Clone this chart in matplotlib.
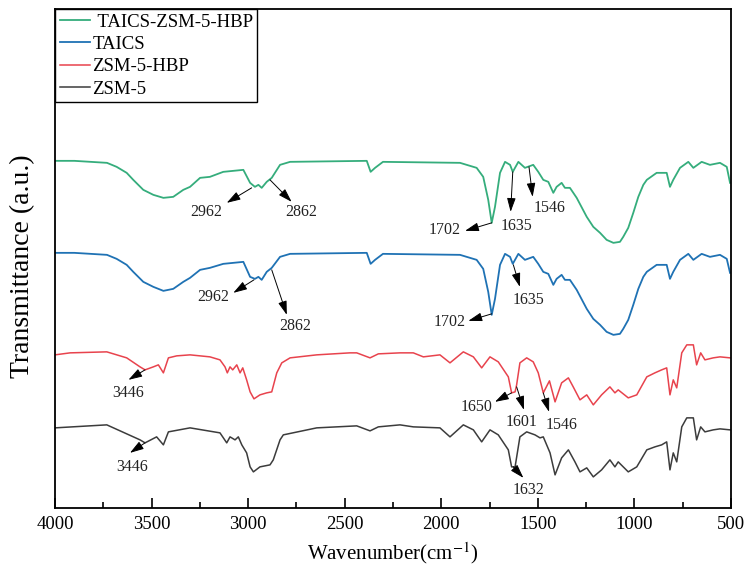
import matplotlib
matplotlib.use("Agg")
import matplotlib.pyplot as plt
from matplotlib.ticker import MultipleLocator

plt.rcParams['font.family'] = ['Liberation Serif', 'DejaVu Serif']
plt.rcParams['mathtext.fontset'] = 'stix'

# ---- spectra (wavenumber cm-1, transmittance a.u.) ----
wn_taics_hbp = [4000, 3900, 3731, 3681, 3629, 3595, 3543, 3491, 3439, 3388, 3336, 3301, 3249, 3198,
                3129, 3025, 2990, 2965, 2947, 2930, 2904, 2878, 2835, 2783, 2386, 2366, 2343, 2302,
                1903, 1817, 1783, 1757, 1739, 1722, 1696, 1670, 1644, 1630, 1601, 1567, 1524, 1498,
                1472, 1446, 1420, 1403, 1377, 1360, 1334, 1299, 1247, 1213, 1178, 1144, 1109, 1075,
                1058, 1032, 1006, 980, 954, 936, 885, 833, 816, 799, 764, 721, 695, 652, 609, 557,
                522, 505]
t_taics_hbp = [3.47, 3.47, 3.45, 3.41, 3.35, 3.28, 3.18, 3.13, 3.10, 3.11, 3.18, 3.21, 3.30, 3.31,
               3.36, 3.38, 3.25, 3.21, 3.23, 3.20, 3.26, 3.30, 3.43, 3.46, 3.47, 3.36, 3.40, 3.46,
               3.45, 3.40, 3.31, 3.08, 2.85, 3.01, 3.35, 3.46, 3.43, 3.36, 3.46, 3.40, 3.43, 3.36,
               3.28, 3.26, 3.15, 3.21, 3.25, 3.20, 3.20, 3.10, 2.91, 2.81, 2.75, 2.68, 2.65, 2.66,
               2.71, 2.80, 2.95, 3.11, 3.23, 3.28, 3.35, 3.35, 3.21, 3.28, 3.40, 3.46, 3.40, 3.46,
               3.43, 3.45, 3.41, 3.25]

wn_taics = wn_taics_hbp
t_taics = [2.55, 2.55, 2.53, 2.49, 2.43, 2.36, 2.26, 2.21, 2.17, 2.19, 2.26, 2.30, 2.38, 2.40,
           2.44, 2.46, 2.31, 2.29, 2.31, 2.28, 2.36, 2.40, 2.51, 2.54, 2.55, 2.44, 2.48, 2.54,
           2.53, 2.48, 2.39, 2.16, 1.93, 2.09, 2.43, 2.54, 2.51, 2.44, 2.54, 2.48, 2.51, 2.44,
           2.36, 2.34, 2.23, 2.29, 2.33, 2.28, 2.28, 2.18, 1.99, 1.89, 1.83, 1.76, 1.73, 1.74,
           1.79, 1.88, 2.03, 2.19, 2.31, 2.36, 2.43, 2.43, 2.29, 2.36, 2.48, 2.54, 2.48, 2.54,
           2.51, 2.53, 2.49, 2.35]

wn_zsm_hbp = [4000, 3922, 3732, 3629, 3560, 3534, 3491, 3465, 3439, 3413, 3370, 3301, 3198, 3146,
              3120, 3108, 3094, 3080, 3059, 3042, 3028, 3008, 2990, 2970, 2939, 2904, 2878, 2852,
              2826, 2783, 2645, 2473, 2438, 2369, 2326, 2214, 2145, 2093, 2007, 1955, 1886, 1834,
              1791, 1748, 1705, 1653, 1636, 1618, 1610, 1593, 1558, 1524, 1498, 1472, 1440, 1411,
              1377, 1342, 1317, 1282, 1247, 1213, 1170, 1127, 1101, 1084, 1032, 988, 936, 894, 859,
              833, 816, 799, 781, 755, 729, 695, 678, 657, 635, 592, 557, 505]
t_zsm_hbp = [1.53, 1.55, 1.56, 1.50, 1.41, 1.38, 1.41, 1.43, 1.35, 1.50, 1.52, 1.53, 1.51, 1.48,
             1.41, 1.35, 1.41, 1.38, 1.43, 1.35, 1.40, 1.28, 1.16, 1.09, 1.13, 1.15, 1.16, 1.35,
             1.45, 1.50, 1.53, 1.55, 1.55, 1.50, 1.54, 1.55, 1.55, 1.51, 1.53, 1.45, 1.56, 1.51,
             1.40, 1.51, 1.46, 1.31, 1.15, 1.16, 1.23, 1.45, 1.50, 1.46, 1.35, 1.15, 1.27, 1.06,
             1.25, 1.30, 1.21, 1.08, 1.13, 1.03, 1.13, 1.21, 1.15, 1.18, 1.10, 1.13, 1.31, 1.35, 1.38,
             1.40, 1.13, 1.28, 1.20, 1.55, 1.63, 1.63, 1.43, 1.55, 1.48, 1.50, 1.51, 1.50]

wn_zsm = [4000, 3732, 3560, 3534, 3474, 3439, 3413, 3301, 3146, 3111, 3094, 3068, 3051, 3033,
          3008, 2990, 2973, 2939, 2887, 2870, 2835, 2818, 2645, 2438, 2369, 2326, 2214, 2145,
          2007, 1955, 1886, 1834, 1791, 1748, 1705, 1653, 1636, 1618, 1593, 1558, 1515, 1489,
          1472, 1437, 1411, 1377, 1342, 1308, 1282, 1247, 1213, 1170, 1127, 1101, 1084, 1032,
          988, 936, 894, 859, 833, 816, 799, 781, 755, 729, 695, 678, 657, 635, 592, 557, 505]
t_zsm = [0.80, 0.83, 0.68, 0.65, 0.71, 0.63, 0.76, 0.80, 0.75, 0.65, 0.71, 0.68, 0.71, 0.63,
         0.55, 0.41, 0.36, 0.41, 0.43, 0.48, 0.68, 0.73, 0.80, 0.82, 0.77, 0.81, 0.83, 0.81,
         0.80, 0.71, 0.83, 0.78, 0.66, 0.78, 0.73, 0.58, 0.41, 0.41, 0.71, 0.76, 0.73, 0.70,
         0.71, 0.55, 0.33, 0.50, 0.58, 0.46, 0.36, 0.40, 0.31, 0.38, 0.48, 0.41, 0.46, 0.36,
         0.41, 0.58, 0.61, 0.63, 0.66, 0.38, 0.55, 0.46, 0.81, 0.90, 0.90, 0.68, 0.81, 0.76,
         0.78, 0.79, 0.78]

# peak labels: text, arrow tail (on curve), arrow head, text position
peak_labels = ['2962', '2862', '1702', '1635', '1546',
               '2962', '2862', '1702', '1635',
               '3446', '1650', '1601', '1546',
               '3446', '1632']
arrow_tail = [(2982, 3.20), (2887, 3.28), (1739, 2.85), (1630, 3.36), (1546, 3.41),
              (2970, 2.28), (2878, 2.38), (1739, 1.94), (1627, 2.43),
              (3534, 1.38), (1636, 1.15), (1610, 1.21), (1472, 1.15),
              (3534, 0.65), (1627, 0.41)]
arrow_head = [(3111, 3.05), (2775, 3.06), (1877, 2.77), (1641, 2.96), (1527, 3.11),
              (3077, 2.15), (2800, 1.93), (1860, 1.87), (1593, 2.21),
              (3620, 1.28), (1722, 1.06), (1572, 0.98), (1442, 0.96),
              (3612, 0.55), (1575, 0.30)]
text_pos = [(3219, 2.96), (2723, 2.96), (1981, 2.78), (1610, 2.82), (1437, 3.00),
            (3180, 2.11), (2757, 1.82), (1955, 1.86), (1550, 2.08),
            (3620, 1.15), (1817, 1.01), (1584, 0.86), (1377, 0.83),
            (3603, 0.41), (1550, 0.18)]

fig = plt.figure(figsize=(7.54, 5.70), dpi=100)
ax = fig.add_axes([0.073, 0.109, 0.8965, 0.8755])

ax.plot(wn_taics_hbp, t_taics_hbp, color='#35ad7c', lw=1.3, label=' TAICS-ZSM-5-HBP')
ax.plot(wn_taics, t_taics, color='#1f72b4', lw=1.3, label='TAICS')
ax.plot(wn_zsm_hbp, t_zsm_hbp, color='#e8434d', lw=1.1, label='ZSM-5-HBP')
ax.plot(wn_zsm, t_zsm, color='#3c3c3c', lw=1.1, label='ZSM-5')

for lab, tail, head, pos in zip(peak_labels, arrow_tail, arrow_head, text_pos):
    ax.annotate('', xy=head, xytext=tail,
                arrowprops=dict(arrowstyle='-|>,head_length=0.7,head_width=0.22',
                                color='black', lw=0.7, mutation_scale=12,
                                shrinkA=0, shrinkB=0))
    ax.text(pos[0], pos[1], lab, fontsize=11.5, ha='center', va='center', color='#222222')

ax.set_xlim(4000, 500)
ax.set_ylim(0, 4.99)
ax.xaxis.set_major_locator(MultipleLocator(500))
ax.xaxis.set_minor_locator(MultipleLocator(250))
ax.tick_params(axis='x', which='major', direction='in', length=7, width=1.2, labelsize=13.5, pad=6)
ax.tick_params(axis='x', which='minor', direction='in', length=4, width=1.2)
ax.tick_params(axis='y', left=False, labelleft=False)
for sp in ax.spines.values():
    sp.set_linewidth(1.3)

ax.set_xlabel('Wavenumber(cm$^{-1}$)', fontsize=15, labelpad=5)
ax.set_ylabel('Transmittance (a.u.)', fontsize=20)
ax.yaxis.set_label_coords(-0.03, 0.485)

leg = ax.legend(loc='upper left', borderaxespad=0, fontsize=13.5, frameon=True, fancybox=False,
                edgecolor='black', framealpha=1, handlelength=1.6, handletextpad=0.15,
                labelspacing=0.28, borderpad=0.25)
leg.get_frame().set_linewidth(1.0)

fig.savefig('out.png', dpi=100)
